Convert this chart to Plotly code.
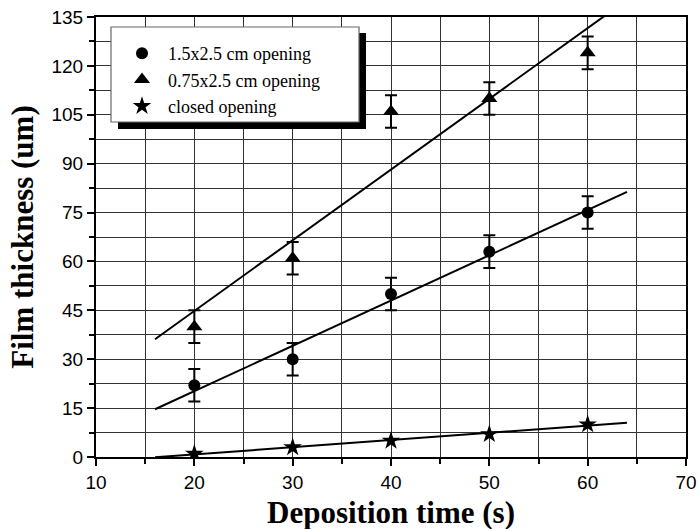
import numpy as np
import plotly.graph_objects as go

x_time = [20, 30, 40, 50, 60]
y_wide = [22, 30, 50, 63, 75]
y_narrow = [40, 61, 106, 110, 124]
y_closed = [1, 3, 5, 7, 10]
err_wide = [5, 5, 5, 5, 5]
err_narrow = [5, 5, 5, 5, 5]
fit_range = [16, 64]
names = ["1.5x2.5 cm opening", "0.75x2.5 cm opening", "closed opening"]
x_title = "Deposition time (s)"
y_title = "Film thickness (um)"

fig = go.Figure()

series = [
    (y_wide, err_wide, "circle", 12, names[0]),
    (y_narrow, err_narrow, "triangle-up", 14, names[1]),
    (y_closed, None, "star", 14, names[2]),
]

xf = np.linspace(fit_range[0], fit_range[1], 50)
for ys, err, sym, sz, nm in series:
    k, b = np.polyfit(x_time, ys, 1)
    fig.add_trace(go.Scatter(x=xf, y=k * xf + b, mode="lines",
                             line=dict(color="black", width=2),
                             showlegend=False, hoverinfo="skip"))

for ys, err, sym, sz, nm in series:
    tr = dict(x=x_time, y=ys, mode="markers", name=nm,
              marker=dict(symbol=sym, size=sz, color="black",
                          line=dict(width=0)))
    if err is not None:
        tr["error_y"] = dict(type="data", array=err, visible=True,
                             color="black", thickness=2, width=6)
    fig.add_trace(go.Scatter(**tr))

axis_common = dict(showline=True, linecolor="black", linewidth=2, mirror=True,
                   ticks="outside", ticklen=7, tickwidth=1.5, tickcolor="black",
                   showgrid=True, gridcolor="#333333", gridwidth=1, zeroline=False,
                   automargin=False,
                   tickfont=dict(family="Liberation Sans, Arial", size=19, color="black"))

title_font = dict(family="Liberation Serif, Times New Roman", size=31, color="black")

fig.update_xaxes(range=[10, 70], dtick=10, tick0=10,
                 minor=dict(dtick=5, ticks="outside", ticklen=5, tickcolor="black",
                            showgrid=True, gridcolor="#333333", gridwidth=1),
                 **axis_common)
fig.update_yaxes(range=[0, 135], dtick=15, tick0=0,
                 minor=dict(dtick=7.5, ticks="outside", ticklen=5, tickcolor="black",
                            showgrid=True, gridcolor="#333333", gridwidth=1),
                 title=dict(text="<b>" + y_title + "</b>", standoff=9, font=title_font),
                 **axis_common)

fig.add_annotation(text="<b>" + x_title + "</b>", xref="paper", yref="paper",
                   x=0.5, y=-(493 - 457) / 440, xanchor="center", yanchor="top",
                   showarrow=False, font=title_font)

# legend box and its shadow (paper coordinates)
fig.add_shape(type="rect", xref="paper", yref="paper",
              x0=0.0373, x1=0.4576, y0=0.7455, y1=0.9636,
              fillcolor="black", line=dict(width=0), layer="above")
fig.add_shape(type="rect", xref="paper", yref="paper",
              x0=0.0254, x1=0.4458, y0=0.7614, y1=0.9773,
              fillcolor="white", line=dict(width=1.2, color="#666666"), layer="above")

fig.update_layout(
    width=699, height=529,
    margin=dict(l=96, r=13, t=17, b=72),
    paper_bgcolor="white", plot_bgcolor="white",
    legend=dict(x=(116 - 96) / 590, y=(457 - 35) / 440, xanchor="left", yanchor="top",
                bgcolor="rgba(0,0,0,0)", borderwidth=0,
                font=dict(family="Liberation Serif, Times New Roman", size=18, color="black"),
                itemwidth=42, tracegroupgap=0),
)

fig.write_html("out.html")
